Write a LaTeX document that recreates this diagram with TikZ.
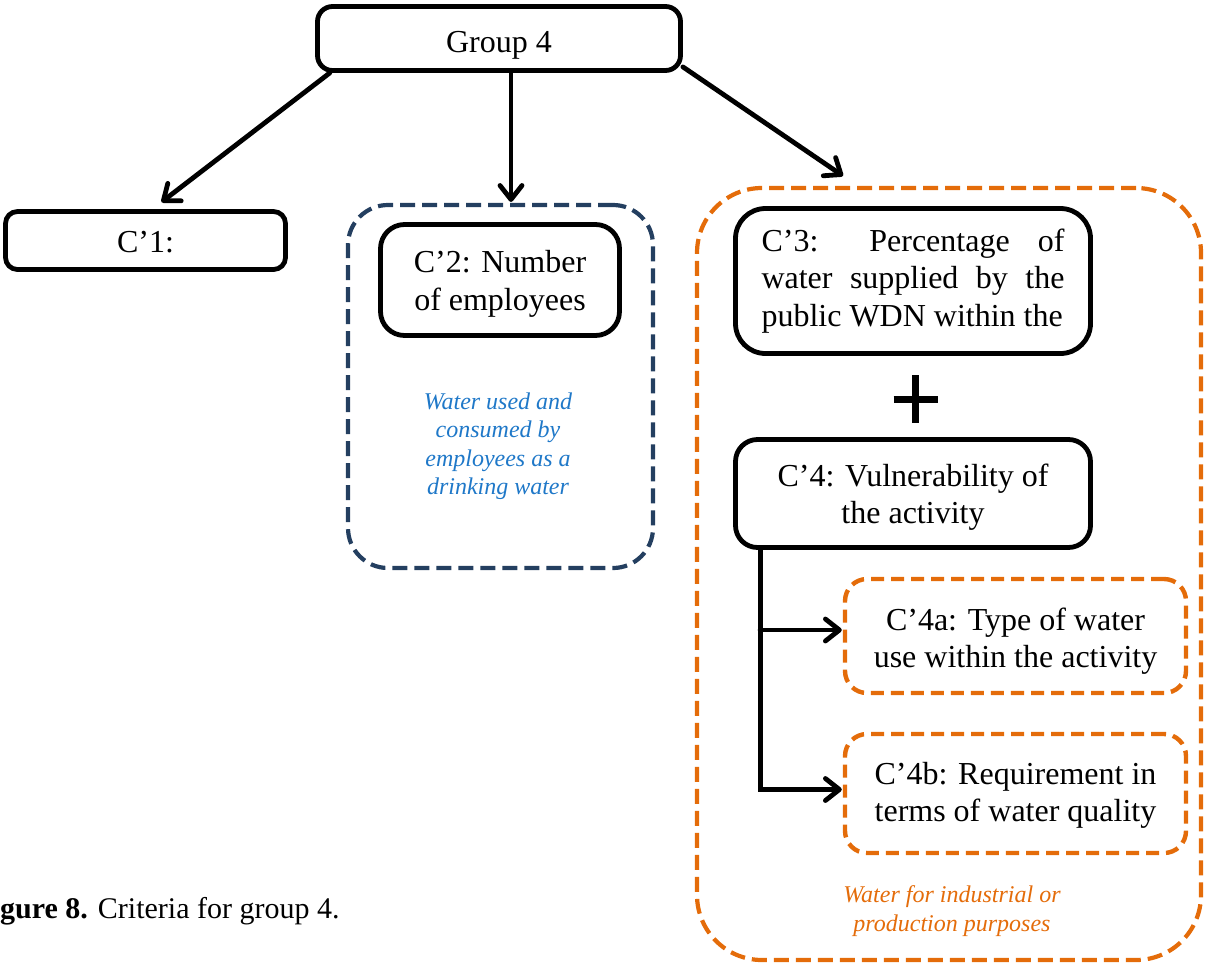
\documentclass[tikz,border=0pt]{standalone}
\usepackage{fontspec}
\setmainfont{Liberation Serif}
\usetikzlibrary{arrows.meta,calc}
\definecolor{navyline}{HTML}{243F60}
\definecolor{orangeline}{HTML}{E46C0A}
\definecolor{noteblue}{HTML}{1F78C8}
% invisible strut that lowers the text of a box
\newcommand{\lowerby}[1]{\rule{0pt}{#1}}
\tikzset{
  critbox/.style={draw=black, line width=4.8pt, fill=white, rounded corners=#1,
    inner sep=0pt, align=center, font=\fontsize{32}{37.5}\selectfont},
  groupbox/.style={line width=4.2pt, rounded corners=#1, inner sep=0pt,
    dash pattern=on 15pt off 7pt},
  subbox/.style={draw=orangeline, line width=4.4pt, fill=white, rounded corners=#1,
    inner sep=0pt, align=center, dash pattern=on 13pt off 7pt,
    font=\fontsize{32}{37.5}\selectfont},
  note/.style={inner sep=0pt, align=center, font=\fontsize{24}{28.5}\selectfont\itshape},
  arr/.style={line width=4.8pt, line cap=round,
    -{Straight Barb[length=14pt,width=22pt,line cap=round,line join=round]}},
}
\begin{document}
\begin{tikzpicture}[x=1pt,y=-1pt]
\useasboundingbox (0,0) rectangle (1207,967);

% dashed group frames
\node[groupbox=40pt, draw=navyline, minimum width=305pt, minimum height=363pt] (c2grp) at (500.5,386.5) {};
\node[groupbox=65pt, draw=orangeline, minimum width=504pt, minimum height=772pt] (c3grp) at (949,574) {};

% criteria boxes
\node[critbox=15pt, minimum width=363pt, minimum height=64pt] (g4) at (499,38.5) {\lowerby{34pt}Group 4};
\node[critbox=12pt, minimum width=280pt, minimum height=58pt] (c1) at (145.5,240.5) {\lowerby{25pt}C’1:};
\node[critbox=24pt, minimum width=239pt, minimum height=111pt] (c2) at (500,280) {\lowerby{30pt}C’2: Number\\of employees};
\node[critbox=30pt, minimum width=355pt, minimum height=145pt, text width=303pt, align=justify] (c3) at (913,281)
  {\parfillskip=0pt C’3: Percentage of\linebreak water supplied by the\linebreak public WDN within the};
\node[critbox=22pt, minimum width=355pt, minimum height=108pt] (c4) at (913,493.5) {\lowerby{30pt}C’4: Vulnerability of\\the activity};
\node[subbox=22pt, minimum width=341pt, minimum height=114pt] (c4a) at (1015.5,636) {\lowerby{33pt}C’4a: Type of water\\use within the activity};
\node[subbox=22pt, minimum width=341pt, minimum height=119pt] (c4b) at (1015.5,793.5) {\lowerby{26pt}C’4b: Requirement in\\terms of water quality};

% plus sign between C'3 and C'4
\coordinate (plus) at (915.5,399);
\draw[line width=7pt] ($(plus)+(-22,0)$) -- ($(plus)+(22,0)$)
                      ($(plus)+(0,-24)$) -- ($(plus)+(0,24)$);

% notes
\node[note, text=noteblue] (n2) at (498,446) {Water used and\\consumed by\\employees as a\\drinking water};
\node[note, text=orangeline] (n3) at (952,911) {Water for industrial or\\production purposes};

% connectors
\draw[arr] ($(g4.south west)!0.04!(g4.south east)$) -- ($(c1.north)+(16,-7)$);
\draw[arr] ($(g4.south)+(12,0)$) -- ($(c2grp.north)+(10.5,-1)$);
\draw[arr] ($(g4.south east)+(0,-6)$) -- ($(c3grp.north)+(-106,-10)$);
\coordinate (trunk) at ($(c4.south west)+(27,0)$);
\draw[arr] ($(trunk |- c4a.west)+(0,-6)$) -- ($(c4a.west)+(-1,-6)$);
\draw[arr, line cap=butt] (trunk) |- ($(c4b.west)+(-1,-4)$);

% caption
\node[anchor=base west, inner sep=0pt, font=\fontsize{30}{36}\selectfont] (cap) at (0,918)
  {\textbf{gure 8.} Criteria for group 4.};
\end{tikzpicture}
\end{document}
